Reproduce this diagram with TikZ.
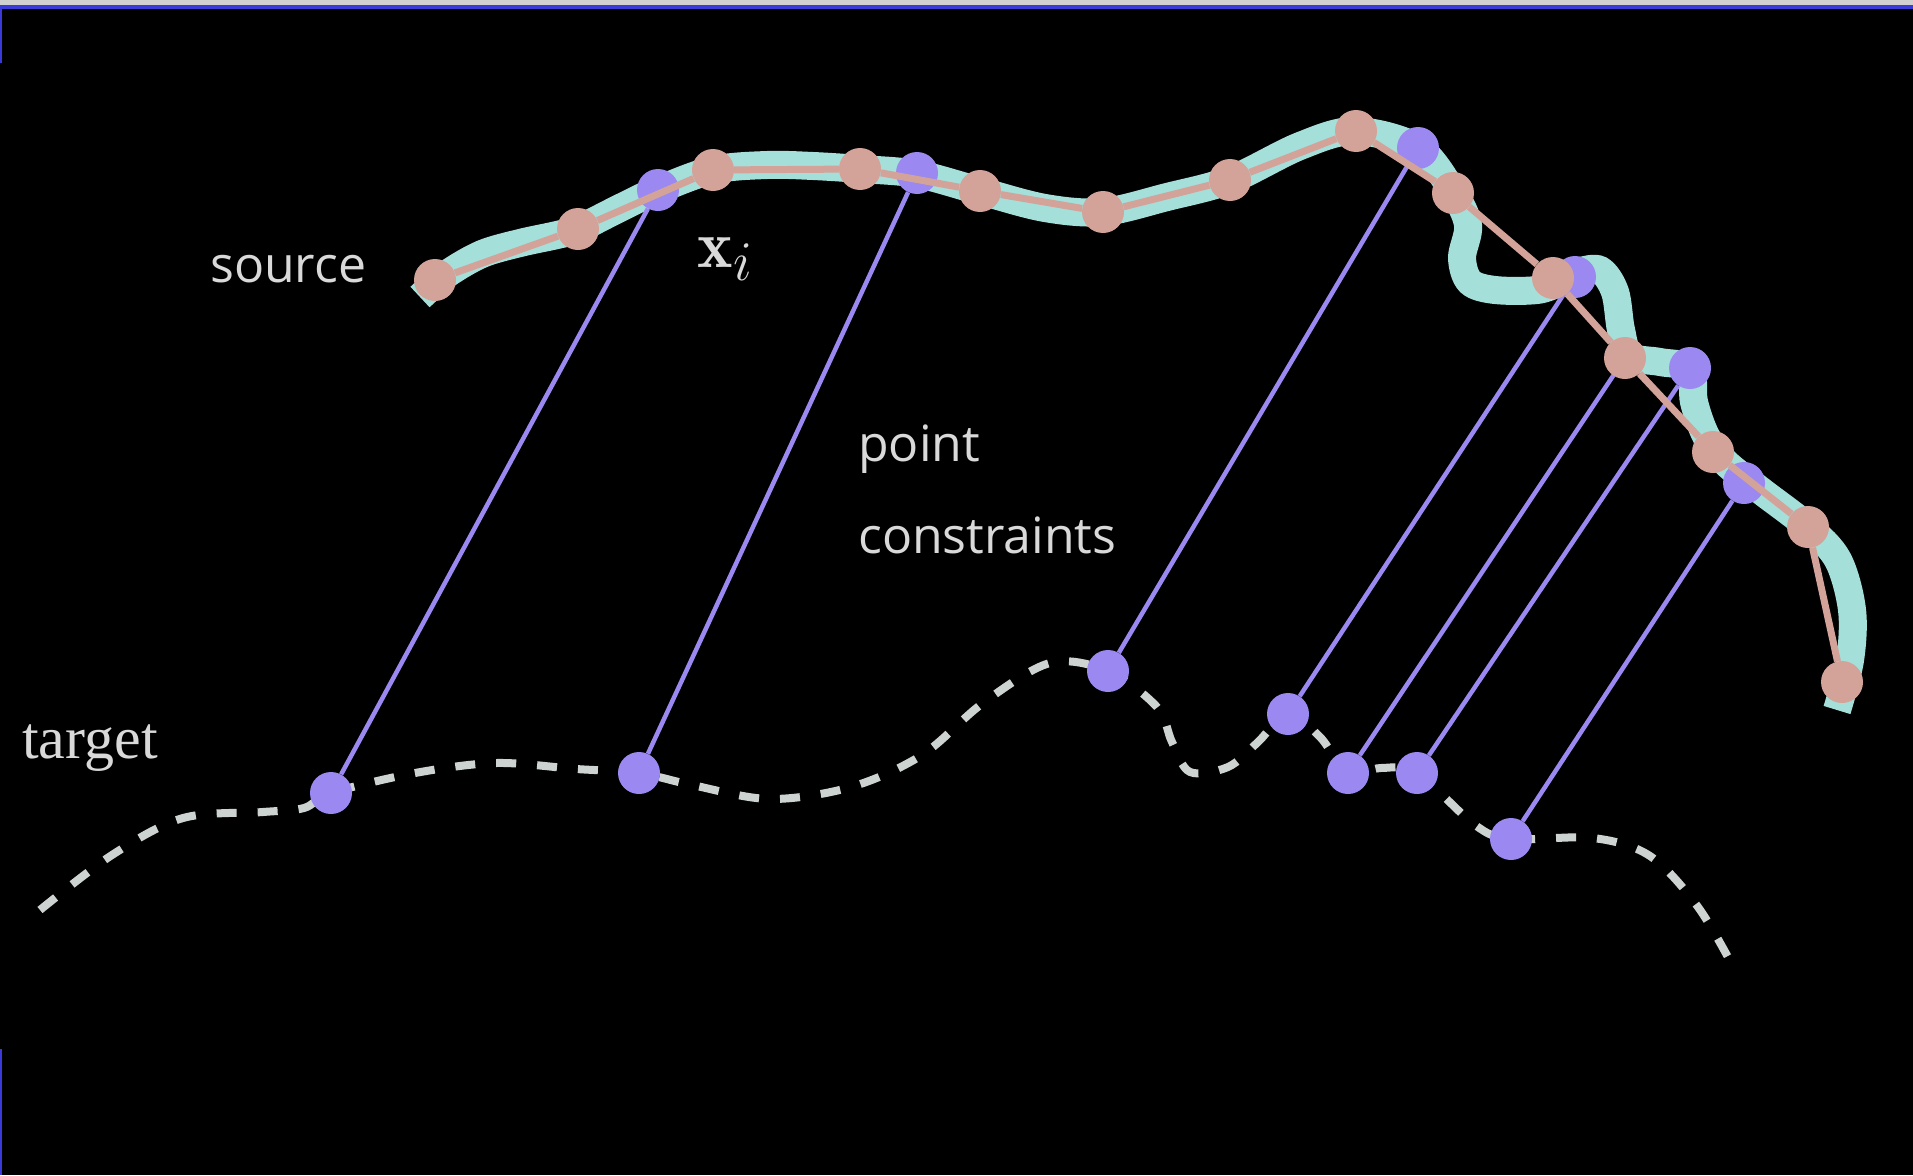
\documentclass[tikz,border=0pt]{standalone}
\usepackage{fontspec}
\newfontfamily\labsans{Open Sans}
\newfontfamily\labserif{Liberation Serif}
\definecolor{cyanc}{HTML}{A4DFDA}
\definecolor{pinkc}{HTML}{D3A39A}
\definecolor{purpc}{HTML}{9B88F0}
\definecolor{dashc}{HTML}{CDD3D0}
\definecolor{textc}{HTML}{D9D9D9}
\definecolor{topgray}{HTML}{D0D0D0}
\definecolor{topblue}{HTML}{3A3AD8}
\begin{document}
\begin{tikzpicture}[x=1pt,y=-1pt,
  pdot/.style={circle,fill=purpc,minimum size=42pt,inner sep=0pt},
  kdot/.style={circle,fill=pinkc,minimum size=42pt,inner sep=0pt},
  plink/.style={draw=purpc,line width=4.5pt},
  klink/.style={draw=pinkc,line width=7pt,line join=round},
  srccurve/.style={draw=cyanc,line width=28pt},
  tgtcurve/.style={draw=dashc,line width=8pt,dash pattern=on 20pt off 21pt},
  lab/.style={text=textc,inner sep=0pt,anchor=base west}]
\fill[black] (0,0) rectangle (1913,1175);
\useasboundingbox (0,0) rectangle (1913,1175);
\fill[topgray] (0,0) rectangle (1913,4.5);
\fill[topblue] (0,4.5) rectangle (1913,8.5);
\fill[topblue] (0,8.5) rectangle (1.5,63);
\fill[topblue] (0,1049) rectangle (1.5,1175);

% source curve
\draw[srccurve] plot[smooth,tension=0.55] coordinates {
 (420,297) (447,274) (482,254) (520,243) (557,235) (578,229) (620,208)
 (658,190) (713,170) (767,165) (813,166) (860,169) (917,174) (980,191)
 (1045,208) (1103,212) (1167,197) (1230,180) (1300,146) (1355,131)
 (1418,148) (1453,192) (1468,225) (1462,258) (1470,282) (1495,290)
 (1537,290) (1560,282) (1578,272) (1600,270) (1615,292) (1621,330)
 (1630,356) (1660,362) (1690,369) (1694,402) (1706,436) (1725,462)
 (1760,490) (1808,527) (1838,560) (1852,610) (1850,660) (1837,710)};

% target curve
\draw[tgtcurve] plot[smooth,tension=0.55] coordinates {
 (40,910) (112,855) (183,818) (263,812) (304,808) (331,793) (415,773)
 (496,763) (576,769) (639,773) (692,785) (770,799) (851,787) (922,755)
 (983,703) (1050,663) (1108,671) (1157,707) (1172,742) (1190,772)
 (1228,767) (1257,743) (1288,714) (1320,737) (1348,773) (1381,768)
 (1417,773) (1475,825) (1511,839) (1593,838) (1650,856) (1698,907)
 (1736,972)};

% purple points
\node[pdot] (S1) at (658,190) {};
\node[pdot] (S2) at (917,173) {};
\node[pdot] (S3) at (1418,148) {};
\node[pdot] (S4) at (1575,277) {};
\node[pdot] (S5) at (1690,368) {};
\node[pdot] (S6) at (1744,483) {};
\node[pdot] (T1) at (331,793) {};
\node[pdot] (T2) at (639,773) {};
\node[pdot] (T3) at (1108,671) {};
\node[pdot] (T4) at (1288,714) {};
\node[pdot] (T5) at (1348,773) {};
\node[pdot] (T6) at (1417,773) {};
\node[pdot] (T7) at (1511,839) {};
\coordinate (c11) at (1625,358);

\draw[plink] (S1) -- (T1);
\draw[plink] (S2) -- (T2);
\draw[plink] (S3) -- (T3);
\draw[plink] (S4) -- (T4);
\draw[plink] (c11) -- (T5);
\draw[plink] (S5) -- (T6);
\draw[plink] (S6) -- (T7);

% pink points
\node[kdot] (P1) at (435,280) {};
\node[kdot] (P2) at (578,229) {};
\node[kdot] (P3) at (713,170) {};
\node[kdot] (P4) at (860,169) {};
\node[kdot] (P5) at (980,191) {};
\node[kdot] (P6) at (1103,212) {};
\node[kdot] (P7) at (1230,180) {};
\node[kdot] (P8) at (1356,131) {};
\node[kdot] (P9) at (1453,193) {};
\node[kdot] (P10) at (1553,278) {};
\node[kdot] (P11) at (1625,358) {};
\node[kdot] (P12) at (1713,452) {};
\node[kdot] (P13) at (1808,527) {};
\node[kdot] (P14) at (1842,682) {};

\draw[klink] (P1) -- (P2) -- (P3) -- (P4) -- (P5) -- (P6) -- (P7) -- (P8)
  -- (P9) -- (P10) -- (P11) -- (P12) -- (P13) -- (P14);

% labels
\node[lab,font=\labsans\fontsize{50}{60}\selectfont] (src) at (210,282) {source};
\node[lab,font=\labsans\fontsize{50}{60}\selectfont] (pt) at (858,461) {point};
\node[lab,font=\labsans\fontsize{50}{60}\selectfont] (cons) at (858,553) {constraints};
\node[lab,font=\labserif\fontsize{60}{70}\selectfont] (tgt) at (22,758) {target};
\node[lab,font=\Huge,scale=2.7] (xi) at (697,267) {$\mathbf{x}_i$};
\end{tikzpicture}
\end{document}
